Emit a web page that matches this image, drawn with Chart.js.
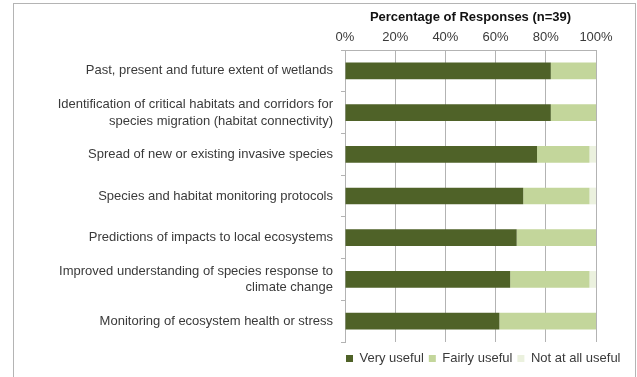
<!DOCTYPE html>
<html>
<head>
<meta charset="utf-8">
<script src="https://cdn.jsdelivr.net/npm/chart.js@4"></script>
<style>
    body { margin: 0; background: #fff; }
    #wrap { position: relative; width: 637px; height: 377px; overflow: hidden; }
    #frame { position: absolute; left: 13px; top: 3px; width: 621px; height: 400px; border: 1px solid #b4b4b4; }
    #chart { position: absolute; left: 0; top: 0; }
</style>
</head>
<body>
<div id="wrap">
    <div id="frame"></div>
    <canvas id="chart" width="637" height="377"></canvas>
</div>
<script>
const categories = [
    'Past, present and future extent of wetlands',
    ['Identification of critical habitats and corridors for', 'species migration (habitat connectivity)'],
    'Spread of new or existing invasive species',
    'Species and habitat monitoring protocols',
    'Predictions of impacts to local ecosystems',
    ['Improved understanding of species response to', 'climate change'],
    'Monitoring of ecosystem health or stress'
];
const veryUseful   = [82.0, 82.0, 76.5, 71.0, 68.4, 65.8, 61.5];
const fairlyUseful = [18.0, 18.0, 20.9, 26.4, 31.6, 31.6, 38.5];
const notUseful    = [0, 0, 2.6, 2.6, 0, 2.6, 0];
const tickLabels = ['0%', '20%', '40%', '60%', '80%', '100%'];

const FONT = "'Liberation Sans', Helvetica, Arial, sans-serif";
const TEXT = '#3a3a3a';
const GRID = '#b3b3b3';

// put the legend where the original has it (right under the plot)
const legendSpot = {
    id: 'legendSpot',
    afterLayout(chart) {
        const lg = chart.legend;
        lg.left = 341;
        lg.right = 637;
        lg.top += 5;
        lg.bottom += 5;
    }
};

new Chart(document.getElementById('chart'), {
    type: 'bar',
    data: {
        labels: categories,
        datasets: [
            { label: 'Very useful', data: veryUseful, backgroundColor: '#4f6228' },
            { label: 'Fairly useful', data: fairlyUseful, backgroundColor: '#c3d69b' },
            { label: 'Not at all useful', data: notUseful, backgroundColor: '#ebf1de' }
        ]
    },
    options: {
        indexAxis: 'y',
        responsive: false,
        animation: false,
        barPercentage: 0.4,
        categoryPercentage: 1,
        layout: { padding: { left: 0, right: 41, top: 0, bottom: 7 } },
        plugins: {
            tooltip: { enabled: false },
            legend: {
                position: 'bottom',
                align: 'start',
                labels: {
                    boxWidth: 7,
                    boxHeight: 7,
                    padding: 5,
                    color: TEXT,
                    font: { family: FONT, size: 13 }
                }
            }
        },
        scales: {
            x: {
                position: 'top',
                stacked: true,
                min: 0,
                max: 100,
                afterFit: (scale) => { scale.height = 50; },
                afterBuildTicks: (scale) => {
                    scale.ticks = tickLabels.map((t, i) => ({ value: i * 20 }));
                },
                ticks: {
                    padding: 5,
                    color: TEXT,
                    font: { family: FONT, size: 13 },
                    callback: (v, i) => tickLabels[i]
                },
                grid: { color: GRID, drawTicks: false },
                border: { color: GRID },
                title: {
                    display: true,
                    text: 'Percentage of Responses (n=39)',
                    color: '#111',
                    font: { family: FONT, size: 13, weight: 'bold' },
                    padding: { top: 10, bottom: 0 }
                }
            },
            y: {
                stacked: true,
                afterFit: (scale) => { scale.width = 345; },
                ticks: {
                    padding: 8,
                    color: TEXT,
                    font: { family: FONT, size: 13, lineHeight: 1.3 }
                },
                grid: { offset: true, drawOnChartArea: false, tickLength: 4, color: GRID },
                border: { color: GRID }
            }
        }
    },
    plugins: [legendSpot]
});
</script>
</body>
</html>
